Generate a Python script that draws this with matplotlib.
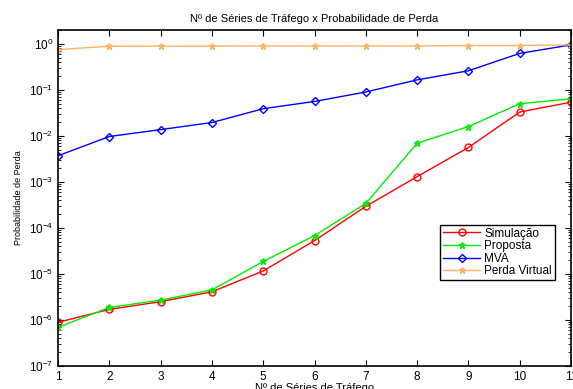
import matplotlib
matplotlib.use("Agg")
import matplotlib.pyplot as plt
from matplotlib.ticker import LogLocator, NullFormatter

# data
series_n = [1, 2, 3, 4, 5, 6, 7, 8, 9, 10, 11]
simulacao = [8.9e-7, 1.7e-6, 2.5e-6, 4.1e-6, 1.16e-5, 5.3e-5, 2.95e-4, 1.3e-3, 5.6e-3, 3.3e-2, 5.4e-2]
proposta = [6.9e-7, 1.87e-6, 2.7e-6, 4.5e-6, 1.87e-5, 6.8e-5, 3.4e-4, 6.9e-3, 1.6e-2, 5.0e-2, 6.4e-2]
mva = [3.7e-3, 9.7e-3, 1.37e-2, 1.95e-2, 3.9e-2, 5.6e-2, 9.0e-2, 0.165, 0.26, 0.62, 0.95]
perda_virtual = [0.75, 0.89, 0.89, 0.89, 0.90, 0.90, 0.90, 0.90, 0.92, 0.92, 0.95]

plt.rcParams["font.family"] = ["Liberation Sans", "DejaVu Sans"]

fig = plt.figure(figsize=(5.73, 3.89), dpi=100)
ax = fig.add_axes([58 / 573, 1 - 366 / 389, (571 - 58) / 573, (366 - 30) / 389])

ax.semilogy(series_n, simulacao, color="#ff0000", marker="o", mfc="none", ms=5, lw=1, label="Simulação")
ax.semilogy(series_n, proposta, color="#00ee00", marker="*", ms=5, lw=1, label="Proposta")
ax.semilogy(series_n, mva, color="#0000ff", marker="D", mfc="none", ms=4, lw=1, label="MVA")
ax.semilogy(series_n, perda_virtual, color="#ffb266", marker="*", ms=5, lw=1, label="Perda Virtual")

ax.set_xlim(1, 11)
ax.set_ylim(1e-7, 2)
ax.set_xticks(series_n)
ax.yaxis.set_major_locator(LogLocator(base=10, numticks=10))
ax.yaxis.set_minor_locator(LogLocator(base=10, subs=range(2, 10), numticks=20))
ax.yaxis.set_minor_formatter(NullFormatter())
ax.tick_params(which="both", direction="in", top=True, right=True, labelsize=8.5)
ax.tick_params(which="major", length=4)
ax.tick_params(which="minor", length=2)
for s in ax.spines.values():
    s.set_linewidth(1.2)

ax.set_title("Nº de Séries de Tráfego x Probabilidade de Perda", fontsize=8, pad=6)
ax.set_xlabel("Nº de Séries de Tráfego", fontsize=8, labelpad=0)
ax.set_ylabel("Probabilidade de Perda", fontsize=6.5, labelpad=4)

leg = ax.legend(loc="lower right", bbox_to_anchor=(0.968, 0.255), fontsize=8.5, fancybox=False,
                framealpha=1, edgecolor="black", borderpad=0.25, labelspacing=0.05,
                handlelength=3.2, handletextpad=0.3, borderaxespad=0)
leg.get_frame().set_linewidth(1)

fig.savefig("out.png", dpi=100)
